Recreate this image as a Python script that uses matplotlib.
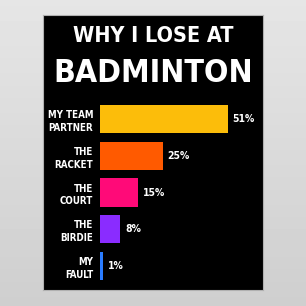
import matplotlib
matplotlib.use("Agg")
import matplotlib.pyplot as plt
import numpy as np

categories = ["MY TEAM\nPARTNER", "THE\nRACKET", "THE\nCOURT", "THE\nBIRDIE", "MY\nFAULT"]
values = [51, 25, 15, 8, 1]
colors = ["#fcbd0a", "#ff5a00", "#ff0a78", "#8a2cff", "#2a7cff"]

font = "DejaVu Sans"
stretch = "condensed"

fig = plt.figure(figsize=(3.06, 3.06), dpi=100)
fig.patch.set_facecolor("#d8d8d8")

# light gray wall behind the poster
wall = fig.add_axes([0, 0, 1, 1])
wall.imshow(np.linspace(0.90, 0.81, 100).reshape(-1, 1), cmap="gray",
            vmin=0, vmax=1, aspect="auto", extent=[0, 1, 0, 1])
wall.axis("off")

# black poster
bg = fig.add_axes([43 / 306, 16 / 306, 220 / 306, 275 / 306])
bg.set_facecolor("black")
bg.set_xticks([])
bg.set_yticks([])
for s in bg.spines.values():
    s.set_color("#b0b0b0")
    s.set_linewidth(0.8)

fig.text(0.5, 0.881, "WHY I LOSE AT", color="white", fontsize=15.5,
         fontweight="bold", family=font, stretch=stretch, ha="center", va="center")
fig.text(0.5, 0.760, "BADMINTON", color="white", fontsize=23,
         fontweight="bold", family=font, stretch=stretch, ha="center", va="center")

ax = fig.add_axes([100 / 306, 22 / 306, 160 / 306, 183 / 306])
ax.set_facecolor("none")
ypos = list(range(len(values)))
bars = ax.barh(ypos, values, height=0.77, color=colors)
ax.set_xlim(0, 64)
ax.set_ylim(4.5, -0.5)
ax.set_yticks(ypos)
ax.set_yticklabels(categories, color="white", fontsize=7, fontweight="bold",
                   family=font, stretch=stretch, linespacing=1.35)
ax.tick_params(axis="y", length=0, pad=5)
ax.set_xticks([])
for s in ax.spines.values():
    s.set_visible(False)
for b, v in zip(bars, values):
    ax.text(b.get_width() + 2, b.get_y() + b.get_height() / 2, f"{v}%",
            color="white", fontsize=7.5, fontweight="bold", family=font,
            stretch=stretch, va="center", ha="left")

fig.savefig("out.png", dpi=100, facecolor=fig.get_facecolor())
